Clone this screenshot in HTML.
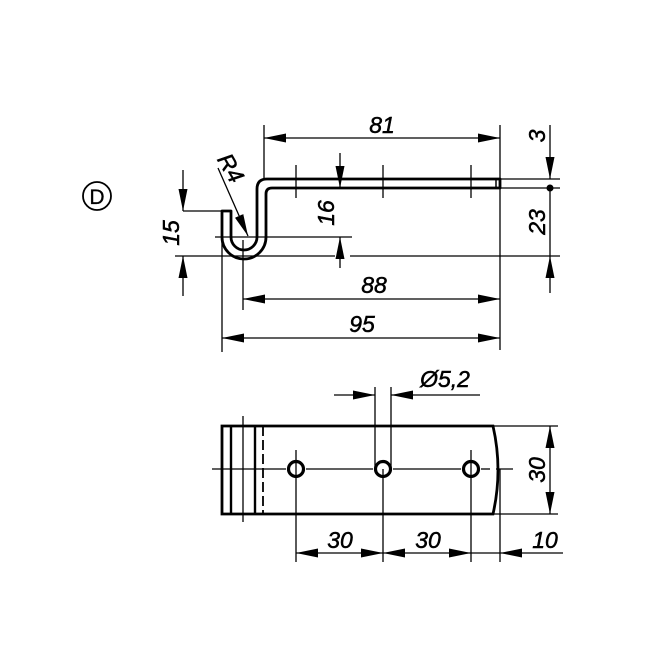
<!DOCTYPE html>
<html><head><style>html,body{margin:0;padding:0;background:#fff}svg{display:block}
text{font-family:"Liberation Sans",sans-serif;font-style:italic;font-size:23px;fill:#000;stroke:#000;stroke-width:0.5}</style></head>
<body>
<svg width="654" height="654" viewBox="0 0 654 654" xmlns="http://www.w3.org/2000/svg">
<defs>
<marker id="a" viewBox="0 0 22 9" refX="22" refY="4.5" markerWidth="22" markerHeight="9" orient="auto-start-reverse" markerUnits="userSpaceOnUse"><path d="M0,0 L22,4.5 L0,9z" fill="#000"/></marker>
</defs>
<circle cx="97" cy="196" r="14" fill="none" stroke="#000" stroke-width="1.8"/>
<text x="97" y="204" text-anchor="middle" style="font-style:normal;font-size:21px;stroke-width:0.3">D</text>

<g fill="none" stroke="#000">
<path d="M500,179 H267 Q257,179 257,189 V237 A13,13 0 0 1 231,237 V211 H222 V237 A22,22 0 0 0 266,237 V194 Q266,188 272,188 H500 Z" stroke-width="2.8" stroke-linejoin="round"/>
<line x1="496" y1="179" x2="496" y2="188" stroke-width="1.5"/>
<g stroke-width="1.3">
<line x1="296" y1="165" x2="296" y2="198"/><line x1="383" y1="165" x2="383" y2="198"/><line x1="471" y1="165" x2="471" y2="198"/>
<line x1="500" y1="125" x2="500" y2="350"/>
<line x1="264" y1="125" x2="264" y2="180"/>
<line x1="500" y1="179" x2="560" y2="179"/><line x1="500" y1="188" x2="560" y2="188"/>
<line x1="175" y1="256" x2="335" y2="256"/><line x1="350" y1="256" x2="560" y2="256"/>
<line x1="215" y1="237" x2="352" y2="237"/>
<line x1="183" y1="211" x2="222" y2="211"/>
<line x1="222" y1="215" x2="222" y2="352"/>
<line x1="243" y1="240" x2="243" y2="310"/>
<line x1="264" y1="138" x2="500" y2="138" marker-start="url(#a)" marker-end="url(#a)"/>
<line x1="243" y1="299" x2="500" y2="299" marker-start="url(#a)" marker-end="url(#a)"/>
<line x1="222" y1="338" x2="500" y2="338" marker-start="url(#a)" marker-end="url(#a)"/>
<line x1="183" y1="170" x2="183" y2="211" marker-end="url(#a)"/>
<line x1="183" y1="296" x2="183" y2="256" marker-end="url(#a)"/>
<line x1="340" y1="153" x2="340" y2="188" marker-end="url(#a)"/>
<line x1="340" y1="268" x2="340" y2="237" marker-end="url(#a)"/>
<line x1="550" y1="125" x2="550" y2="179" marker-end="url(#a)"/>
<line x1="550" y1="293" x2="550" y2="256" marker-end="url(#a)"/>
<line x1="550" y1="188" x2="550" y2="256"/>
<line x1="218" y1="168" x2="248" y2="236" marker-end="url(#a)"/>
</g>
</g>
<circle cx="550" cy="188" r="3.5" fill="#000"/>
<text x="382" y="133" text-anchor="middle">81</text>
<text x="374" y="293" text-anchor="middle">88</text>
<text x="362" y="332" text-anchor="middle">95</text>
<text transform="translate(179,233) rotate(-90)" text-anchor="middle">15</text>
<text transform="translate(334,213) rotate(-90)" text-anchor="middle">16</text>
<text transform="translate(545,136) rotate(-90)" text-anchor="middle">3</text>
<text transform="translate(545,222) rotate(-90)" text-anchor="middle">23</text>
<text transform="translate(224,172) rotate(60)" text-anchor="middle">R4</text>

<g fill="none" stroke="#000">
<path d="M222,426 H493 Q503,470 493,514 H222 Z" stroke-width="2.8"/>
<line x1="231" y1="426" x2="231" y2="514" stroke-width="2.4"/>
<line x1="255" y1="426" x2="255" y2="514" stroke-width="2.4"/>
<line x1="263" y1="426" x2="263" y2="514" stroke-width="1.8" stroke-dasharray="10,4"/>
<g stroke-width="1.3">
<line x1="243" y1="416" x2="243" y2="522"/>
<line x1="212" y1="469" x2="286" y2="469"/><line x1="306" y1="469" x2="373" y2="469"/><line x1="393" y1="469" x2="461" y2="469"/><line x1="481" y1="469" x2="490" y2="469"/><line x1="496" y1="469" x2="513" y2="469"/>
<line x1="296" y1="450" x2="296" y2="562"/>
<line x1="383" y1="469" x2="383" y2="562"/>
<line x1="471" y1="450" x2="471" y2="562"/>
<line x1="500" y1="469" x2="500" y2="562"/>
<line x1="375" y1="387" x2="375" y2="469"/><line x1="391" y1="387" x2="391" y2="469"/>
<line x1="334" y1="395" x2="375" y2="395" marker-end="url(#a)"/>
<line x1="480" y1="395" x2="391" y2="395" marker-end="url(#a)"/>
<line x1="493" y1="426" x2="558" y2="426"/><line x1="493" y1="514" x2="558" y2="514"/>
<line x1="550" y1="426" x2="550" y2="514" marker-start="url(#a)" marker-end="url(#a)"/>
<line x1="296" y1="553" x2="383" y2="553" marker-start="url(#a)" marker-end="url(#a)"/>
<line x1="383" y1="553" x2="471" y2="553" marker-start="url(#a)" marker-end="url(#a)"/>
<line x1="471" y1="553" x2="500" y2="553"/>
<line x1="563" y1="553" x2="500" y2="553" marker-end="url(#a)"/>
</g>
<circle cx="296" cy="469" r="7.5" stroke-width="3.2"/>
<circle cx="383" cy="469" r="7.5" stroke-width="3.2"/>
<circle cx="471" cy="469" r="7.5" stroke-width="3.2"/>
</g>
<text x="445" y="387" text-anchor="middle">Ø5,2</text>
<text transform="translate(545,470) rotate(-90)" text-anchor="middle">30</text>
<text x="340" y="548" text-anchor="middle">30</text>
<text x="428" y="548" text-anchor="middle">30</text>
<text x="545" y="548" text-anchor="middle">10</text>
</svg>
</body></html>
